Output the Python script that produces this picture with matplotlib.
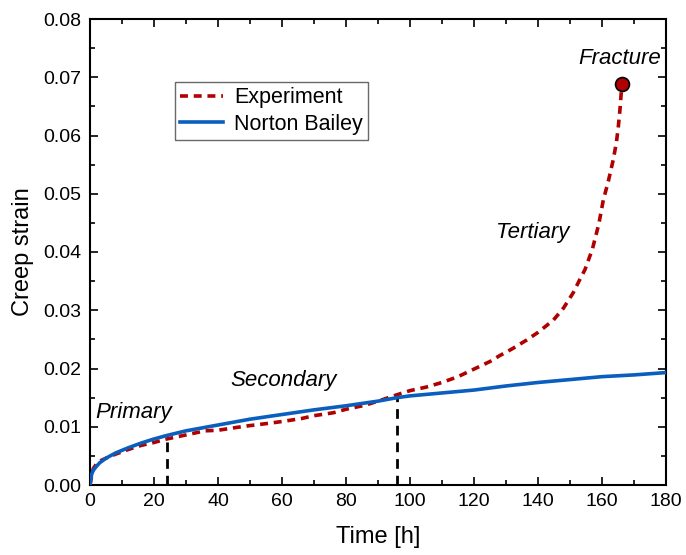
import matplotlib
matplotlib.use("Agg")
import matplotlib.pyplot as plt
from matplotlib.ticker import MultipleLocator, FormatStrFormatter

plt.rcParams['font.family'] = ['Liberation Sans', 'DejaVu Sans']

# Experiment data
exp_t = [0, 0.5, 1, 2, 3, 5, 8, 12, 16, 20, 24, 30, 36, 40, 46, 50, 56, 60, 66, 70, 76, 80, 86, 90, 96,
         100, 105, 110, 115, 120, 125, 128, 132, 136.5, 140, 144.8, 148, 151, 153, 154.7, 157, 159,
         160.4, 162, 163.5, 164.5, 165.1, 165.7, 166.2]
exp_s = [0, 0.0015, 0.0028, 0.0036, 0.0041, 0.0046, 0.0053, 0.0061, 0.0068, 0.0073, 0.0079, 0.0086,
         0.0093, 0.0094, 0.0099, 0.0102, 0.0106, 0.0109, 0.0114, 0.0119, 0.0124, 0.0130, 0.0137, 0.0144,
         0.0155, 0.0162, 0.0168, 0.0176, 0.0186, 0.0199, 0.0212, 0.0222, 0.0234, 0.0249, 0.0262,
         0.0283, 0.0304, 0.0330, 0.0352, 0.0370, 0.0405, 0.0448, 0.0489, 0.0522, 0.0558, 0.0588,
         0.0615, 0.0650, 0.0688]

# Norton Bailey model
nb_t = [0, 0.5, 1, 2, 3, 5, 8, 12, 16, 20, 24, 30, 40, 50, 60, 70, 80, 90, 96, 100, 110, 120,
        130, 140, 150, 160, 170, 180]
nb_s = [0, 0.0018, 0.0025, 0.0032, 0.0038, 0.0046, 0.0055, 0.0064, 0.0072, 0.0079, 0.0085, 0.0093,
        0.0103, 0.0113, 0.0121, 0.0129, 0.0136, 0.0144, 0.0150, 0.0153, 0.0158, 0.0163, 0.0170,
        0.0176, 0.0181, 0.0186, 0.0189, 0.0193]

fracture_t = [166.2]
fracture_s = [0.0688]

stage_t = [24, 96]
stage_s = [0.0079, 0.0155]

fig = plt.figure(figsize=(6.86, 5.55), dpi=100)
ax = fig.add_axes([90/686, 1 - 485/555, 576/686, 466/555])

red = '#B00000'
blue = '#0A5EBE'

ax.plot(exp_t, exp_s, color=red, lw=2.6, ls=(0, (2.2, 1.6)), label='Experiment', zorder=3)
ax.plot(nb_t, nb_s, color=blue, lw=2.6, ls='-', label='Norton Bailey', zorder=4)
ax.plot(fracture_t, fracture_s, 'o', ms=10, mfc=red, mec='black', mew=1.2, zorder=5)

for t, s in zip(stage_t, stage_s):
    ax.plot([t, t], [0, s], color='black', lw=2, ls=(0, (3.5, 2.5)), zorder=2)

ax.set_xlim(0, 180)
ax.set_ylim(0, 0.08)
ax.xaxis.set_major_locator(MultipleLocator(20))
ax.xaxis.set_minor_locator(MultipleLocator(10))
ax.yaxis.set_major_locator(MultipleLocator(0.01))
ax.yaxis.set_minor_locator(MultipleLocator(0.005))
ax.yaxis.set_major_formatter(FormatStrFormatter('%.2f'))
ax.tick_params(which='both', direction='in', top=True, right=True, labelsize=14, width=1.2)
ax.tick_params(which='major', length=6, pad=6)
ax.tick_params(which='minor', length=3.5)
for sp in ax.spines.values():
    sp.set_linewidth(1.5)

ax.set_xlabel('Time [h]', fontsize=17, labelpad=11)
ax.set_ylabel('Creep strain', fontsize=17, labelpad=7)

ax.text(1.6, 0.0124, 'Primary', style='italic', fontsize=16, ha='left', va='center')
ax.text(44, 0.0180, 'Secondary', style='italic', fontsize=16, ha='left', va='center')
ax.text(127, 0.0434, 'Tertiary', style='italic', fontsize=16, ha='left', va='center')
ax.text(152.5, 0.0733, 'Fracture', style='italic', fontsize=16, ha='left', va='center')

leg = ax.legend(loc='upper left', bbox_to_anchor=(85/576, 1 - 63/466), fontsize=15.5,
                frameon=True, fancybox=False, edgecolor='#444444', handlelength=2.0,
                borderpad=0.25, labelspacing=0.25, handletextpad=0.5, borderaxespad=0)
leg.get_frame().set_linewidth(1.0)

fig.savefig('out.png', dpi=100)
